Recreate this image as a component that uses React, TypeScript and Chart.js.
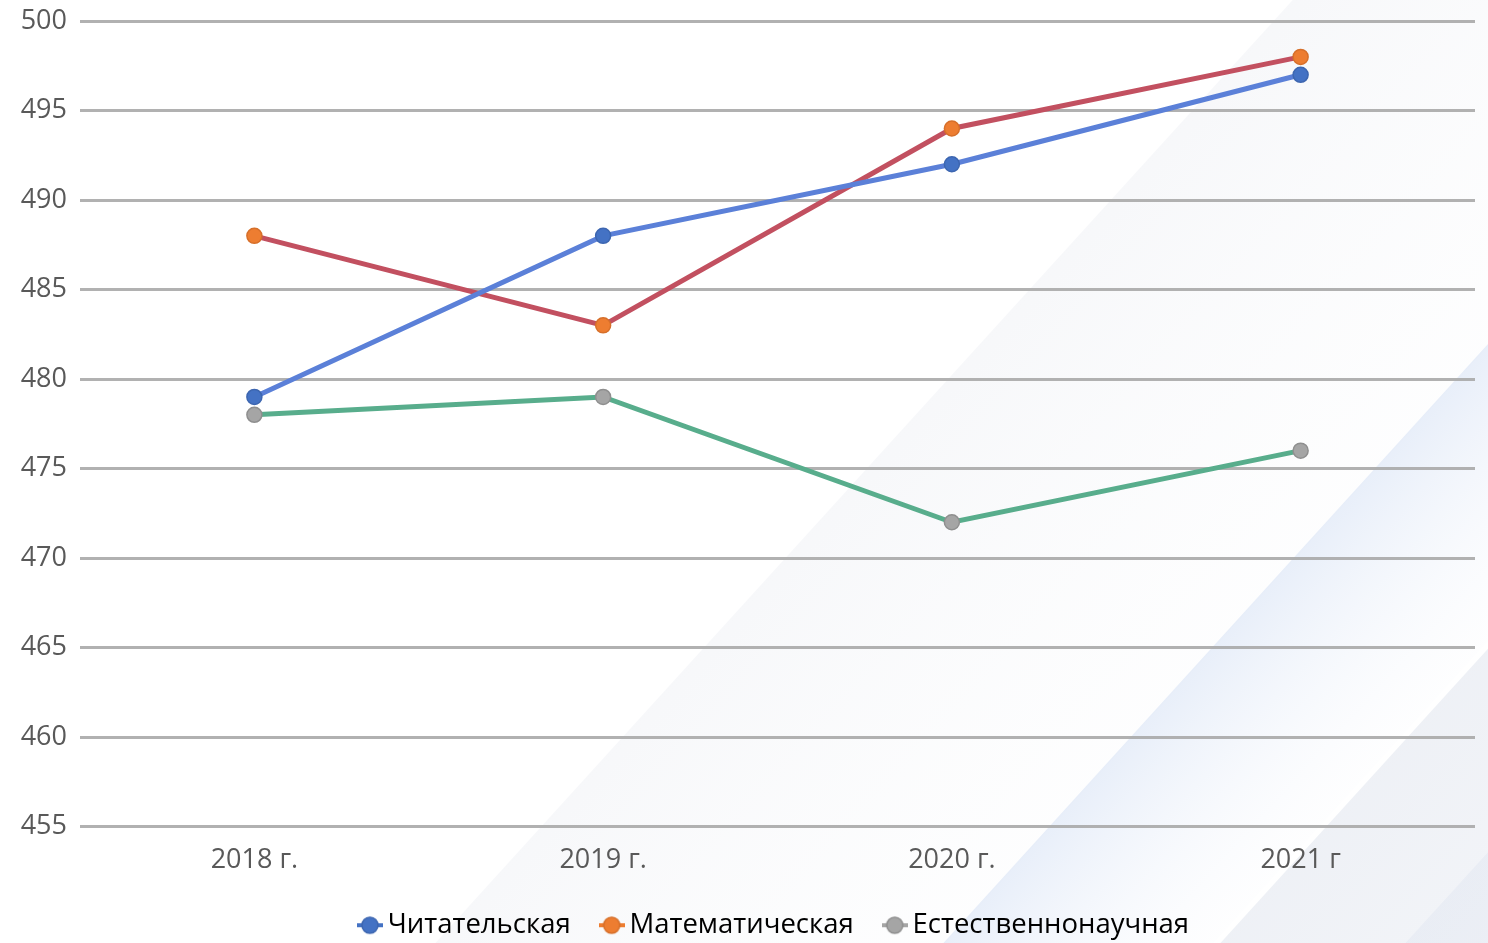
import React, { useEffect, useRef } from "react";
import { Chart, registerables } from "chart.js";

Chart.register(...registerables);

const categories = ["2018 г.", "2019 г.", "2020 г.", "2021 г"];
const reading = [479, 488, 492, 497];
const math = [488, 483, 494, 498];
const science = [478, 479, 472, 476];
const seriesNames = ["Читательская", "Математическая", "Естественнонаучная"];
const yMin = 455;
const yMax = 500;
const yStep = 5;

const lineColors = ["#5b80d8", "#c25060", "#58ad8c"];
const markerColors = ["#4472c4", "#ed7d31", "#a5a5a5"];
const markerBorders = ["#3d66b0", "#d66f2a", "#8f8f8f"];
const textColor = "#595959";
const fontFamily = "'Open Sans', 'Noto Sans', sans-serif";

function legendMarker(color: string, border: string): HTMLCanvasElement {
  const c = document.createElement("canvas");
  c.width = 26;
  c.height = 20;
  const g = c.getContext("2d")!;
  g.strokeStyle = color;
  g.lineWidth = 4;
  g.beginPath();
  g.moveTo(0, 10);
  g.lineTo(26, 10);
  g.stroke();
  g.fillStyle = color;
  g.strokeStyle = border;
  g.lineWidth = 1.5;
  g.beginPath();
  g.arc(13, 10, 8, 0, Math.PI * 2);
  g.fill();
  g.stroke();
  return c;
}

const stripesPlugin = {
  id: "stripes",
  beforeDraw(chart: any) {
    const ctx = chart.ctx as CanvasRenderingContext2D;
    const W = chart.width;
    const H = chart.height;
    ctx.save();
    ctx.fillStyle = "#ffffff";
    ctx.fillRect(0, 0, W, H);
    const k = 1.1;
    const bands = [
      { x0: 430, w: 510, c0: "rgba(228,231,238,0.3)", c1: "rgba(242,244,248,0.12)" },
      { x0: 938, w: 270, c0: "rgba(195,212,240,0.38)", c1: "rgba(238,242,250,0.08)" },
      { x0: 1215, w: 700, c0: "rgba(215,221,233,0.42)", c1: "rgba(228,232,240,0.25)" },
      { x0: 1400, w: 600, c0: "rgba(210,218,235,0.25)", c1: "rgba(228,232,240,0.15)" },
    ];
    for (const b of bands) {
      const nx = 0.74, ny = 0.672;
      const pw = b.w * 0.74;
      const grad = ctx.createLinearGradient(b.x0, H, b.x0 + nx * pw, H + ny * pw);
      grad.addColorStop(0, b.c0);
      grad.addColorStop(1, b.c1);
      ctx.fillStyle = grad;
      ctx.beginPath();
      ctx.moveTo(b.x0, H);
      ctx.lineTo(b.x0 + b.w, H);
      ctx.lineTo(b.x0 + b.w + H / k, 0);
      ctx.lineTo(b.x0 + H / k, 0);
      ctx.closePath();
      ctx.fill();
    }
    ctx.restore();
  },
};

export default function App() {
  const ref = useRef<HTMLCanvasElement | null>(null);

  useEffect(() => {
    document.documentElement.style.overflow = "hidden";
    document.body.style.overflow = "hidden";
    document.body.style.margin = "0";
    const series = [reading, math, science];
    const markers = markerColors.map((c, i) => legendMarker(c, markerBorders[i]));
    const chart = new Chart(ref.current!, {
      type: "line",
      data: {
        labels: categories,
        datasets: series.map((d, i) => ({
          label: seriesNames[i],
          data: d,
          borderColor: lineColors[i],
          backgroundColor: markerColors[i],
          borderWidth: 5,
          pointRadius: 7.5,
          pointBackgroundColor: markerColors[i],
          pointBorderColor: markerBorders[i],
          pointBorderWidth: 1.5,
          tension: 0,
          fill: false,
        })),
      },
      options: {
        animation: false,
        responsive: true,
        maintainAspectRatio: false,
        layout: { autoPadding: false, padding: { top: 20, right: 13, left: 0, bottom: 0 } },
        scales: {
          x: {
            offset: true,
            grid: { display: false, drawTicks: false },
            border: { display: false },
            ticks: { padding: 20, color: textColor, font: { family: fontFamily, size: 27, lineHeight: 1 } },
            afterFit: (s: any) => {
              s.height = 48;
            },
          },
          y: {
            min: yMin,
            max: yMax,
            ticks: { stepSize: yStep, padding: 13, color: textColor, font: { family: fontFamily, size: 27, lineHeight: 0.6 } },
            grid: { color: "rgba(168,168,168,0.9)", lineWidth: 3, drawTicks: false },
            border: { display: false },
            afterFit: (s: any) => {
              s.width = 80;
            },
          },
        },
        plugins: {
          tooltip: { enabled: false },
          legend: {
            position: "bottom",
            fullSize: false,
            labels: {
              usePointStyle: true,
              pointStyleWidth: 8,
              boxHeight: 8,
              padding: 37,
              color: textColor,
              font: { family: fontFamily, size: 27.5 },
              generateLabels: () =>
                seriesNames.map((n, i) => ({
                  text: n,
                  pointStyle: markers[i],
                  fillStyle: markerColors[i],
                  strokeStyle: markerColors[i],
                  lineWidth: 0,
                  hidden: false,
                  datasetIndex: i,
                })),
            },
          },
        },
      },
      plugins: [stripesPlugin],
    } as any);
    return () => chart.destroy();
  }, []);

  return (
    <div style={{ position: "absolute", left: 0, top: 0, width: 1488, height: 949 }}>
      <canvas ref={ref} />
    </div>
  );
}
